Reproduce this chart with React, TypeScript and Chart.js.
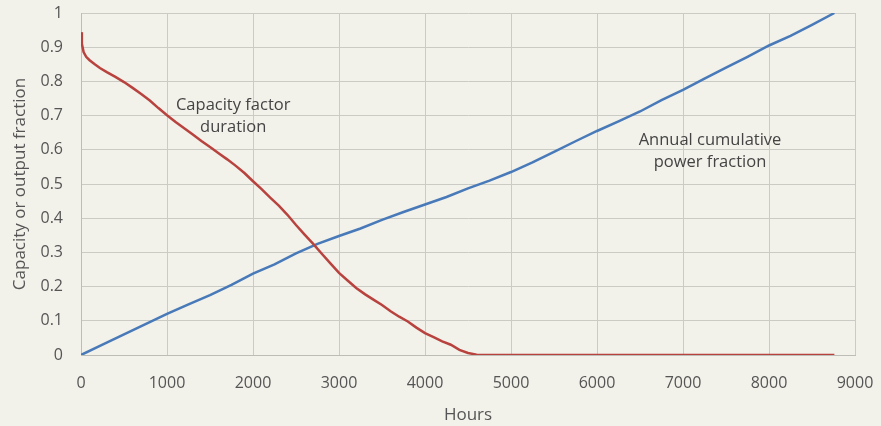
import React, { useEffect, useRef } from "react";
import { Chart, registerables } from "chart.js";

Chart.register(...registerables);

const capHours = [0, 10, 30, 60, 100, 160, 220, 300, 400, 500, 600, 700, 800, 900, 1000, 1100, 1200, 1300, 1400, 1500, 1600, 1700, 1800, 1900, 2000, 2100, 2200, 2300, 2400, 2500, 2600, 2700, 2800, 2900, 3000, 3100, 3200, 3300, 3400, 3500, 3600, 3700, 3800, 3900, 4000, 4100, 4200, 4300, 4400, 4500, 4600, 4700, 8760];
const capValues = [0.944, 0.91, 0.886, 0.872, 0.862, 0.85, 0.839, 0.827, 0.813, 0.798, 0.781, 0.763, 0.744, 0.722, 0.701, 0.681, 0.663, 0.645, 0.626, 0.608, 0.59, 0.572, 0.553, 0.532, 0.508, 0.485, 0.46, 0.437, 0.41, 0.38, 0.352, 0.325, 0.296, 0.268, 0.24, 0.218, 0.196, 0.178, 0.162, 0.146, 0.128, 0.112, 0.098, 0.08, 0.064, 0.052, 0.04, 0.03, 0.015, 0.006, 0.001, 0, 0];

const cumHours = [0, 250, 500, 750, 1000, 1250, 1500, 1750, 2000, 2250, 2500, 2750, 3000, 3250, 3500, 3750, 4000, 4250, 4500, 4750, 5000, 5250, 5500, 5750, 6000, 6250, 6500, 6750, 7000, 7250, 7500, 7750, 8000, 8250, 8500, 8760];
const cumValues = [0, 0.03, 0.06, 0.09, 0.12, 0.148, 0.175, 0.205, 0.238, 0.265, 0.297, 0.325, 0.348, 0.37, 0.395, 0.418, 0.44, 0.462, 0.487, 0.51, 0.535, 0.563, 0.594, 0.625, 0.655, 0.683, 0.712, 0.745, 0.775, 0.808, 0.84, 0.872, 0.905, 0.933, 0.965, 1.0];

const annotations = [
  { lines: ["Capacity factor", "duration"], x: 1770, y: 0.73 },
  { lines: ["Annual cumulative", "power fraction"], x: 7314, y: 0.628 },
];

const FONT = "'Open Sans', sans-serif";
const TEXT = "#555555";

const annotationPlugin = {
  id: "textAnnotations",
  afterDatasetsDraw(chart: any) {
    const { ctx, scales } = chart;
    ctx.save();
    ctx.font = `16.5px ${FONT}`;
    ctx.fillStyle = "#444444";
    ctx.textAlign = "center";
    ctx.textBaseline = "middle";
    for (const a of annotations) {
      const px = scales.x.getPixelForValue(a.x);
      const py = scales.y.getPixelForValue(a.y);
      a.lines.forEach((l, i) => ctx.fillText(l, px, py + i * 22));
    }
    ctx.restore();
  },
};

const bgPlugin = {
  id: "bg",
  beforeDraw(chart: any) {
    const { ctx, width, height } = chart;
    ctx.save();
    ctx.fillStyle = "#f2f1ea";
    ctx.fillRect(0, 0, width, height);
    ctx.restore();
  },
};

export default function App() {
  const ref = useRef<HTMLCanvasElement>(null);
  useEffect(() => {
    document.body.style.margin = "0";
    const chart = new Chart(ref.current!, {
      type: "line",
      data: {
        datasets: [
          {
            data: capHours.map((h, i) => ({ x: h, y: capValues[i] })),
            borderColor: "#b8423e",
            borderWidth: 2.5,
            pointRadius: 0,
            tension: 0,
          },
          {
            data: cumHours.map((h, i) => ({ x: h, y: cumValues[i] })),
            borderColor: "#4879b8",
            borderWidth: 2.5,
            pointRadius: 0,
            tension: 0,
          },
        ],
      },
      options: {
        responsive: false,
        animation: false,
        layout: { padding: 0 },
        plugins: { legend: { display: false }, tooltip: { enabled: false } },
        scales: {
          x: {
            type: "linear",
            min: 0,
            max: 9000,
            ticks: { stepSize: 1000, color: TEXT, font: { family: FONT, size: 16 }, padding: 19, maxRotation: 0, callback: (v: any) => String(v) },
            grid: { color: "#cbcbc6", lineWidth: 1, drawTicks: false },
            border: { color: "#bdbdb8" },
            title: { display: true, text: "Hours", color: TEXT, font: { family: FONT, size: 17 }, padding: { top: 0, bottom: 1 } },
            afterFit(s: any) { s.height = 71; s.paddingLeft = 0; s.paddingRight = 26; },
          },
          y: {
            min: 0,
            max: 1,
            ticks: { stepSize: 0.1, color: TEXT, font: { family: FONT, size: 16 }, padding: 18, callback: (v: any) => String(Math.round(v * 10) / 10) },
            grid: { color: "#cbcbc6", lineWidth: 1, drawTicks: false },
            border: { color: "#bdbdb8" },
            title: { display: true, text: "Capacity or output fraction", color: TEXT, font: { family: FONT, size: 17 }, padding: { top: 10, bottom: 0 } },
            afterFit(s: any) { s.width = 81; s.paddingTop = 13; s.paddingBottom = 0; },
          },
        },
      },
      plugins: [bgPlugin, annotationPlugin],
    });
    return () => chart.destroy();
  }, []);
  return (
    <div style={{ width: 881, height: 426 }}>
      <canvas ref={ref} width={881} height={426} />
    </div>
  );
}
